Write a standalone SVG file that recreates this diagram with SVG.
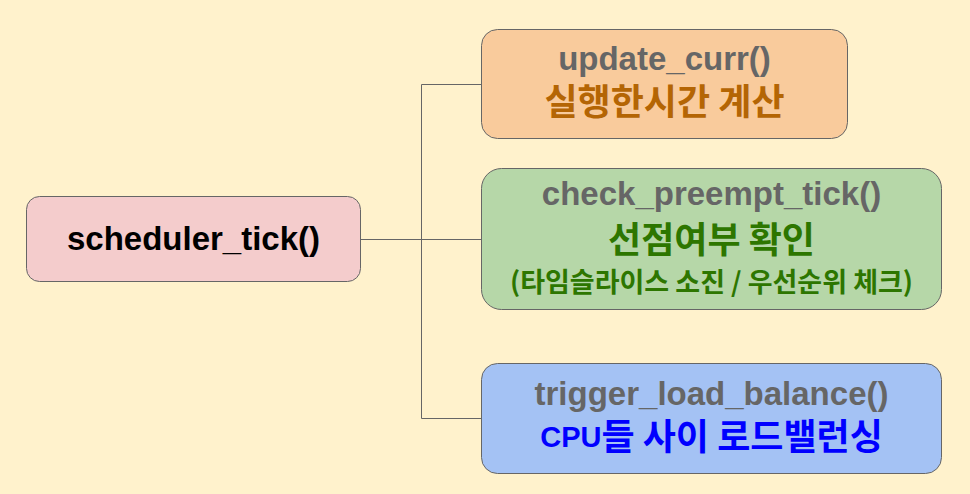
<svg xmlns="http://www.w3.org/2000/svg" width="970" height="494" viewBox="0 0 970 494">
  <style>
    .box { stroke: #666666; stroke-width: 1; }
    .fn { font-family: "Liberation Sans", Arial, sans-serif; font-weight: bold; font-size: 33px; text-anchor: middle; fill: #666666; }
    .ko { font-family: "Noto Sans CJK KR", "Liberation Sans", sans-serif; font-weight: bold; font-size: 36px; text-anchor: middle; }
    .conn { fill: none; stroke: #666666; stroke-width: 1; }
  </style>
  <rect x="0" y="0" width="970" height="494" fill="#FFF2CC"/>

  <g id="connectors">
    <path class="conn" d="M361 239.5 H421.5"/>
    <path class="conn" d="M421.5 84.5 V418.5"/>
    <path class="conn" d="M421.5 84.5 H481"/>
    <path class="conn" d="M421.5 239.5 H481"/>
    <path class="conn" d="M421.5 418.5 H481"/>
  </g>

  <g id="scheduler_tick">
    <rect class="box" x="26.5" y="196.5" width="334" height="85" rx="13" fill="#F4CCCC"/>
    <text class="fn" x="193.5" y="250" style="fill:#000000">scheduler_tick()</text>
  </g>

  <g id="update_curr">
    <rect class="box" x="481.5" y="29.5" width="366" height="109" rx="16" fill="#F9CB9C"/>
    <text class="fn" x="664.5" y="70">update_curr()</text>
    <text class="ko" x="664.5" y="115" fill="#B46504">실행한시간 계산</text>
  </g>

  <g id="check_preempt_tick">
    <rect class="box" x="481.5" y="168.5" width="460" height="141" rx="20" fill="#B6D7A8"/>
    <text class="fn" x="711.5" y="205">check_preempt_tick()</text>
    <text class="ko" x="711.5" y="253" fill="#2D7600">선점여부 확인</text>
    <text class="ko" x="711.5" y="292" fill="#2D7600" style="font-size:27px">(타임슬라이스 소진 / 우선순위 체크)</text>
  </g>

  <g id="trigger_load_balance">
    <rect class="box" x="481.5" y="363.5" width="460" height="110" rx="16" fill="#A4C2F4"/>
    <text class="fn" x="711.5" y="405">trigger_load_balance()</text>
    <text class="ko" x="711.5" y="450" fill="#0000FF"><tspan font-family="Liberation Sans, Arial, sans-serif" font-size="29" dy="-3">CPU</tspan><tspan dy="3">들 사이 로드밸런싱</tspan></text>
  </g>
</svg>
